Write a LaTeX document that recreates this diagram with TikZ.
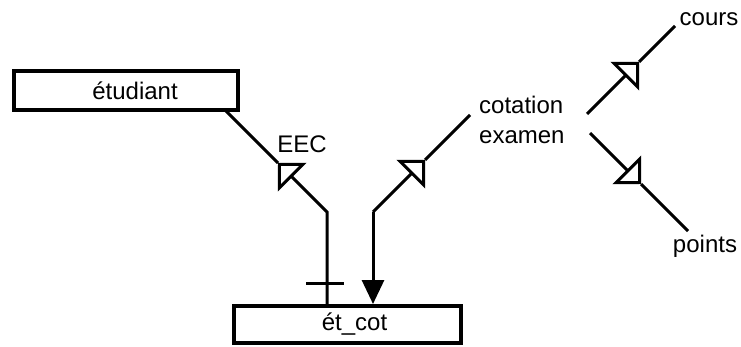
\documentclass[tikz,border=0pt]{standalone}
\usepackage{fontspec}
\setmainfont{Liberation Sans}
\usetikzlibrary{arrows.meta}

\begin{document}
\begin{tikzpicture}[x=1pt,y=-1pt,
  ent/.style={draw,line width=4pt,inner sep=0pt,font=\fontsize{24}{28}\selectfont},
  lbl/.style={inner sep=0pt,font=\fontsize{24}{30}\selectfont},
  link/.style={line width=3pt},
  oarr/.style={link,-{Triangle[length=20pt,width=40pt,fill=white]}},
  farr/.style={link,-{Triangle[length=24pt,width=22pt]}}]
  \useasboundingbox (0,0) rectangle (741,347);
  \node[ent,minimum width=224pt,minimum height=39pt] (etudiant) at (126,90.5) {\hspace*{18pt}étudiant};
  \node[ent,minimum width=227pt,minimum height=37pt] (etcot) at (347.5,324.5) {\hspace*{14pt}ét\_cot};
  \node[lbl,align=left,anchor=west] (cotex) at (479,120) {cotation\\examen};
  \node[lbl] (cours) at (709,19) {cours};
  \node[lbl] (points) at (705,246) {points};
  \node[lbl] (eec) at (302,144) {EEC};
  \coordinate (e1) at (225,110);
  \coordinate (t1) at (278,163);
  \coordinate (b1) at (327,212);
  \coordinate (b2) at (373,212);
  \coordinate (t2) at (425,160);
  \coordinate (c0) at (470,115);
  \coordinate (k1) at (587,114);
  \coordinate (t3) at (639,62);
  \coordinate (k2) at (675,26);
  \coordinate (p1) at (590,133);
  \coordinate (t4) at (641,184);
  \coordinate (p2) at (688,231);
  \draw[oarr] (etcot.north -| b1) -- (b1) -- (t1);
  \draw[link] (t1) -- (e1);
  \draw[link] (306,283) -- (344,283);
  \draw[oarr] (b2) -- (t2);
  \draw[link] (t2) -- (c0);
  \draw[farr] (b2) -- (etcot.north -| b2);
  \draw[oarr] (k1) -- (t3);
  \draw[link] (t3) -- (k2);
  \draw[oarr] (p1) -- (t4);
  \draw[link] (t4) -- (p2);
\end{tikzpicture}
\end{document}
